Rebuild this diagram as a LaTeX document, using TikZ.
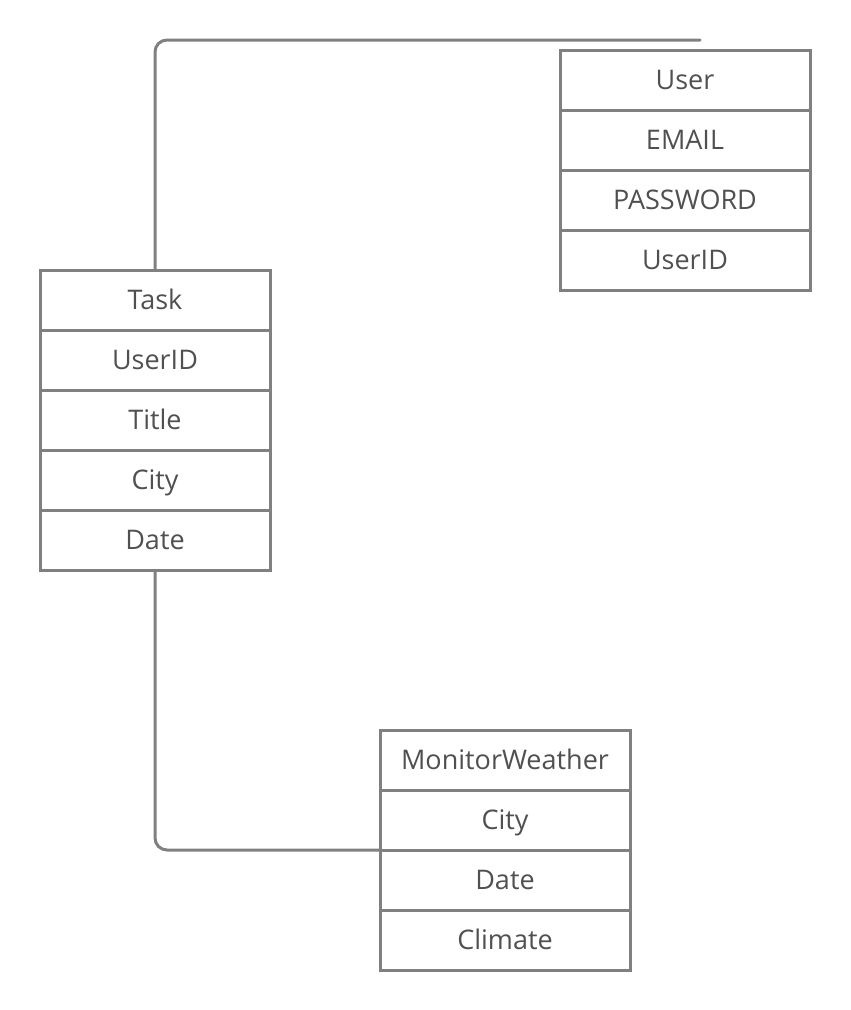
\documentclass[tikz,border=0pt]{standalone}
\usepackage{fontspec}
\setmainfont{Open Sans}
\usetikzlibrary{positioning}
\definecolor{linegray}{HTML}{808080}
\definecolor{textgray}{HTML}{505050}
\begin{document}
\begin{tikzpicture}[every node/.style={shape=rectangle, draw=linegray, line width=3pt, text=textgray, outer sep=0pt, minimum height=60pt, text height=19pt, text depth=0pt, font=\fontsize{27}{30}\selectfont},node distance=60pt,
    wide/.style={minimum width=250pt}, narrow/.style={minimum width=230pt},
    link/.style={draw=linegray, line width=3pt, rounded corners=12pt, line cap=round}]
    \useasboundingbox (0pt,0pt) rectangle (851pt,-1010pt);

    \node (user) [wide] at (685pt,-80pt) {User};
    \node (email) [wide, below of=user] {EMAIL};
    \node (password) [wide, below of=email] {PASSWORD};
    \node (userid) [wide, below of=password] {UserID};

    \node (task) [narrow] at (155pt,-300pt) {Task};
    \node (taskuser) [narrow, below of=task] {UserID};
    \node (title) [narrow, below of=taskuser] {Title};
    \node (taskcity) [narrow, below of=title] {City};
    \node (taskdate) [narrow, below of=taskcity] {Date};

    \node (weather) [wide] at (505pt,-760pt) {MonitorWeather};
    \node (city) [wide, below of=weather] {City};
    \node (date) [wide, below of=city] {Date};
    \node (climate) [wide, below of=date] {Climate};

    \coordinate (userend) at (700pt,-40pt);

    \path[link] (task.north) |- (userend);
    \path[link] (taskdate.south) |- (city.south west);
\end{tikzpicture}
\end{document}
